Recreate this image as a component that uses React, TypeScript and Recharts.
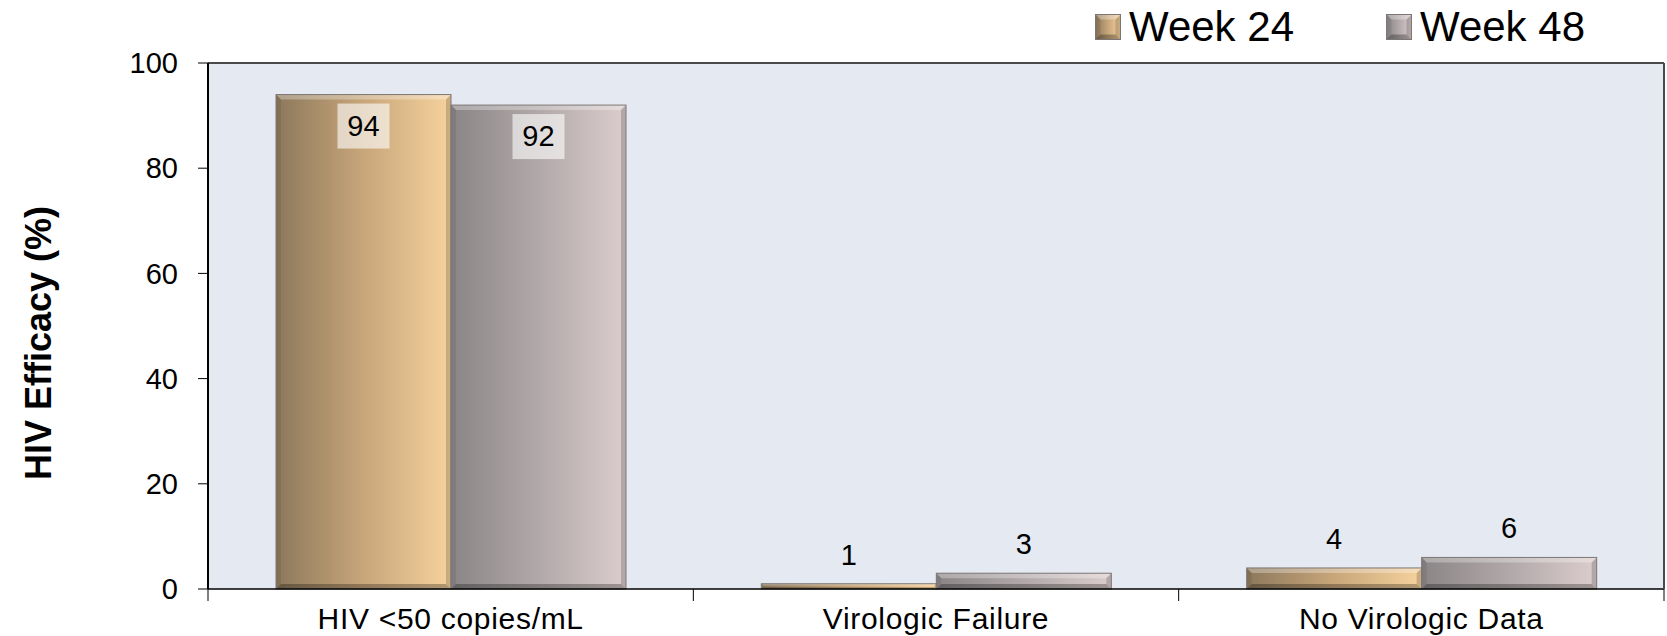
import { BarChart, Bar, XAxis, YAxis, CartesianGrid, ReferenceLine, LabelList } from "recharts";

const CATEGORIES = ["HIV <50 copies/mL", "Virologic Failure", "No Virologic Data"];
const WEEK_24 = [94, 1, 4];
const WEEK_48 = [92, 3, 6];
const Y_TICKS = [0, 20, 40, 60, 80, 100];
// positions on the numeric edge axis: integers are category borders, halves are label slots
const EDGE_TICKS = [0, 0.5, 1, 1.5, 2, 2.5, 3];

const FONT = "'Liberation Sans', Arial, sans-serif";

const data = CATEGORIES.map((name, i) => ({ name, pos: i + 0.5, w24: WEEK_24[i], w48: WEEK_48[i] }));

function BevelBar(props: any) {
  const { x, y, width, height, grad } = props;
  if (!height || height <= 0) return null;
  const b = Math.min(5, height / 3);
  const x2 = x + width;
  const y2 = y + height;
  return (
    <g>
      <rect x={x} y={y} width={width} height={height} fill={`url(#${grad})`} />
      <polygon points={`${x},${y} ${x2},${y} ${x2 - b},${y + b} ${x + b},${y + b}`} fill="#fff" fillOpacity={0.3} />
      <polygon points={`${x2},${y} ${x2},${y2} ${x2 - b},${y2 - b} ${x2 - b},${y + b}`} fill="#000" fillOpacity={0.18} />
      <polygon points={`${x},${y2} ${x2},${y2} ${x2 - b},${y2 - b} ${x + b},${y2 - b}`} fill="#000" fillOpacity={0.28} />
      <polygon points={`${x},${y} ${x + b},${y + b} ${x + b},${y2 - b} ${x},${y2}`} fill="#000" fillOpacity={0.08} />
      <rect x={x} y={y} width={width} height={height} fill="none" stroke="#7c7774" strokeWidth={1} />
    </g>
  );
}

function ValueLabel(props: any) {
  const { x, y, width, value, index } = props;
  const cx = x + width / 2;
  if (index === 0) {
    return (
      <g>
        <rect x={cx - 26} y={y + 9} width={52} height={45} fill="#fff" fillOpacity={0.6} />
        <text x={cx} y={y + 41} textAnchor="middle" fontSize={29} fontFamily={FONT} fill="#000">{value}</text>
      </g>
    );
  }
  return (
    <text x={cx} y={y - 19} textAnchor="middle" fontSize={29} fontFamily={FONT} fill="#000">{value}</text>
  );
}

function EdgeTick(props: any) {
  const { x, y, payload } = props;
  const v = payload.value;
  if (Number.isInteger(v)) {
    return <line x1={x} x2={x} y1={y} y2={y + 12} stroke="#000" strokeWidth={1} />;
  }
  return (
    <text x={x} y={y + 40} textAnchor="middle" fontSize={30} letterSpacing={0.7} fontFamily={FONT} fill="#000">
      {CATEGORIES[Math.floor(v)]}
    </text>
  );
}

function AxisTitle(props: any) {
  const vb = props.viewBox;
  const cy = vb.y + vb.height / 2 + 17;
  return (
    <text x={51} y={cy} transform={`rotate(-90 51 ${cy})`} textAnchor="middle" fontSize={36} fontWeight="bold" fontFamily={FONT} fill="#000">
      HIV Efficacy (%)
    </text>
  );
}

function LegendSwatch({ grad }: { grad: string }) {
  return (
    <svg width={26} height={26} style={{ display: "block" }}>
      <BevelBar x={0.5} y={0.5} width={25} height={25} grad={grad} />
    </svg>
  );
}

function Gradients() {
  return (
    <defs>
      <linearGradient id="g24" x1="0" y1="0" x2="1" y2="0">
        <stop offset="0%" stopColor="#8c785c" />
        <stop offset="50%" stopColor="#c8a67a" />
        <stop offset="100%" stopColor="#f6d29d" />
      </linearGradient>
      <linearGradient id="g48" x1="0" y1="0" x2="1" y2="0">
        <stop offset="0%" stopColor="#8a8586" />
        <stop offset="50%" stopColor="#b1a8a9" />
        <stop offset="100%" stopColor="#dccdcd" />
      </linearGradient>
    </defs>
  );
}

export default function App() {
  const legendItem = (grad: string, text: string, left: number) => (
    <div style={{ position: "absolute", left, top: 4, display: "flex", alignItems: "center", gap: 8 }}>
      <svg width={0} height={0} style={{ position: "absolute" }}><Gradients /></svg>
      <LegendSwatch grad={grad} />
      <span style={{ fontSize: 42, fontFamily: FONT, lineHeight: "46px" }}>{text}</span>
    </div>
  );

  return (
    <div style={{ position: "absolute", left: 0, top: 0, width: 1667, height: 636, background: "#fff" }}>
      <BarChart width={1667} height={636} data={data} margin={{ top: 63, right: 0, bottom: 0, left: 0 }} barCategoryGap={68} barGap={0}>
        <Gradients />
        <CartesianGrid fill="#e5e9f2" horizontal={false} vertical={false} />
        <XAxis xAxisId="cat" dataKey="name" hide height={0} />
        <XAxis
          xAxisId="edge"
          type="number"
          dataKey="pos"
          domain={[0, 3]}
          ticks={EDGE_TICKS}
          interval={0}
          allowDataOverflow
          height={47}
          tickSize={0}
          tickMargin={0}
          tickLine={false}
          axisLine={{ stroke: "#000", strokeWidth: 1.5 }}
          tick={<EdgeTick />}
        />
        <YAxis
          domain={[0, 100]}
          ticks={Y_TICKS}
          interval={0}
          width={208}
          tickSize={10}
          tickMargin={20}
          axisLine={{ stroke: "#000", strokeWidth: 2 }}
          tickLine={{ stroke: "#000" }}
          tick={{ fill: "#000", fontSize: 29, fontFamily: FONT }}
          label={{ content: (p: any) => <AxisTitle {...p} /> }}
        />
        <YAxis yAxisId="right" orientation="right" domain={[0, 100]} width={3} tick={false} tickLine={false} axisLine={{ stroke: "#4a4a4a", strokeWidth: 2 }} />
        <ReferenceLine y={100} xAxisId="cat" stroke="#4a4a4a" strokeWidth={2} />
        <Bar xAxisId="cat" dataKey="w24" isAnimationActive={false} shape={(p: any) => <BevelBar {...p} grad="g24" />}>
          <LabelList dataKey="w24" content={(p: any) => <ValueLabel {...p} />} />
        </Bar>
        <Bar xAxisId="cat" dataKey="w48" isAnimationActive={false} shape={(p: any) => <BevelBar {...p} grad="g48" />}>
          <LabelList dataKey="w48" content={(p: any) => <ValueLabel {...p} />} />
        </Bar>
      </BarChart>
      {legendItem("g24", "Week 24", 1095)}
      {legendItem("g48", "Week 48", 1386)}
    </div>
  );
}
